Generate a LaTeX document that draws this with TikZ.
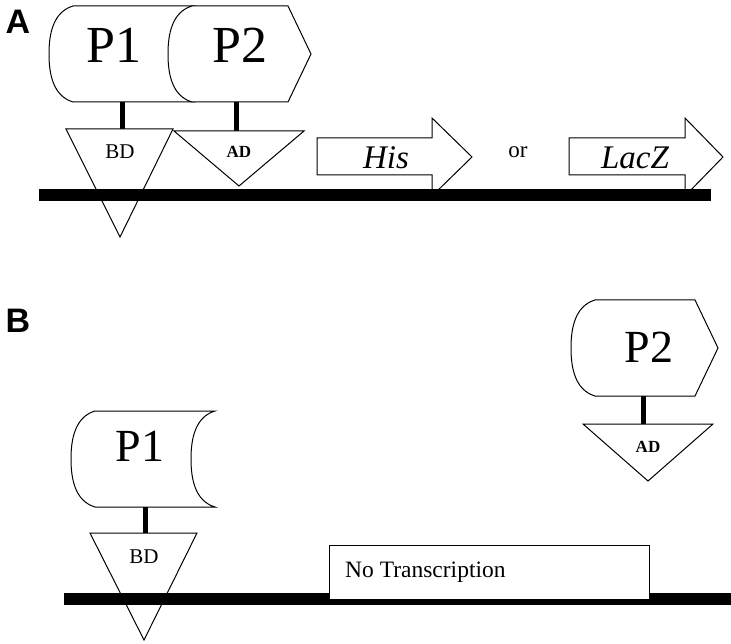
\documentclass[tikz,border=0pt]{standalone}
\usepackage{fontspec}
\setmainfont{Liberation Serif}
\newfontfamily\panelfont{Liberation Sans}
\newcommand\pieceL[2]{({#1},{#2}) -- ({#1+120},{#2}) .. controls ({#1+100},{#2+6}) and ({#1+96},{#2+28}) .. ({#1+96},{#2+48}) .. controls ({#1+96},{#2+68}) and ({#1+100},{#2+90}) .. ({#1+120},{#2+96}) -- ({#1},{#2+96}) .. controls ({#1-20},{#2+90}) and ({#1-24},{#2+68}) .. ({#1-24},{#2+48}) .. controls ({#1-24},{#2+28}) and ({#1-20},{#2+6}) .. ({#1},{#2}) -- cycle}
\newcommand\pieceR[3]{({#1},{#2}) -- ({#1+#3},{#2}) -- ({#1+#3+23},{#2+48}) -- ({#1+#3},{#2+96}) -- ({#1},{#2+96}) .. controls ({#1-20},{#2+90}) and ({#1-24},{#2+68}) .. ({#1-24},{#2+48}) .. controls ({#1-24},{#2+28}) and ({#1-20},{#2+6}) .. ({#1},{#2}) -- cycle}
\begin{document}
\begin{tikzpicture}[x=1pt,y=-1pt,
  outline/.style={draw=black, line width=1pt, fill=white, line join=miter},
  stem/.style={draw=black, line width=5pt},
  dnabar/.style={fill=black},
  ptext/.style={inner sep=0pt, font=\fontsize{46}{46}\selectfont},
  ptextbig/.style={inner sep=0pt, font=\fontsize{52}{52}\selectfont},
  bdtext/.style={inner sep=0pt, font=\fontsize{21}{21}\selectfont},
  adtext/.style={inner sep=0pt, font=\bfseries\fontsize{17}{17}\selectfont},
  genetext/.style={inner sep=0pt, font=\itshape\fontsize{33}{33}\selectfont},
  paneltext/.style={inner sep=0pt, font=\panelfont\bfseries\fontsize{34}{34}\selectfont}]
\useasboundingbox (0,0) rectangle (731,644);

% ---------------- Panel A ----------------
\node[paneltext] (la) at (18,21.5) {A};
\draw[outline] \pieceL{73}{6};
\draw[outline] \pieceR{192}{6}{96};
\coordinate (p1a-b) at (122,102);
\coordinate (p2a-b) at (236,102);
\coordinate (bda-t) at (122,129);
\coordinate (ada-t) at (236,131);
\draw[stem] (p1a-b) -- (bda-t);
\draw[stem] (p2a-b) -- (ada-t);
\draw[outline] (66,129) -- (173,129) -- (120,237) -- cycle;
\draw[outline] (174,131) -- (304,131) -- (239,186) -- cycle;
\draw[outline] (317,138) -- (432,138) -- (432,118) -- (472,157) -- (432,196) -- (432,175) -- (317,175) -- cycle;
\draw[outline] (569,138) -- (685,138) -- (685,118) -- (723,157) -- (685,196) -- (685,175) -- (569,175) -- cycle;
\fill[dnabar] (39,189) rectangle (711,201);
\node[ptextbig] (p1a) at (114,45) {P1};
\node[ptextbig] (p2a) at (240,45) {P2};
\node[bdtext] (bda) at (120,152) {BD};
\node[adtext] (ada) at (239,152) {AD};
\node[genetext] (his) at (386,158) {His};
\node[inner sep=0pt, font=\fontsize{23}{23}\selectfont] (or) at (518,152) {or};
\node[genetext] (lacz) at (635,158) {LacZ};

% ---------------- Panel B ----------------
\node[paneltext] (lb) at (18,321) {B};
\draw[outline] \pieceR{595}{300}{100};
\draw[outline] \pieceL{95}{411};
\coordinate (p2b-b) at (643,396);
\coordinate (adb-t) at (643,424);
\coordinate (p1b-b) at (145,507);
\coordinate (bdb-t) at (145,533);
\draw[stem] (p2b-b) -- (adb-t);
\draw[stem] (p1b-b) -- (bdb-t);
\draw[outline] (583,424) -- (713,424) -- (648,481) -- cycle;
\draw[outline] (90,533) -- (197,533) -- (144,640) -- cycle;
\fill[dnabar] (64,593) rectangle (731,605);
\draw[outline] (329,545) rectangle (649,599);
\node[ptext] (p2b) at (649,347) {P2};
\node[ptext] (p1b) at (140,446) {P1};
\node[adtext] (adb) at (648,447) {AD};
\node[bdtext] (bdb) at (144,557) {BD};
\node[inner sep=0pt, anchor=base west, font=\fontsize{23.5}{23.5}\selectfont] (nt) at (345,577) {No Transcription};
\end{tikzpicture}
\end{document}
